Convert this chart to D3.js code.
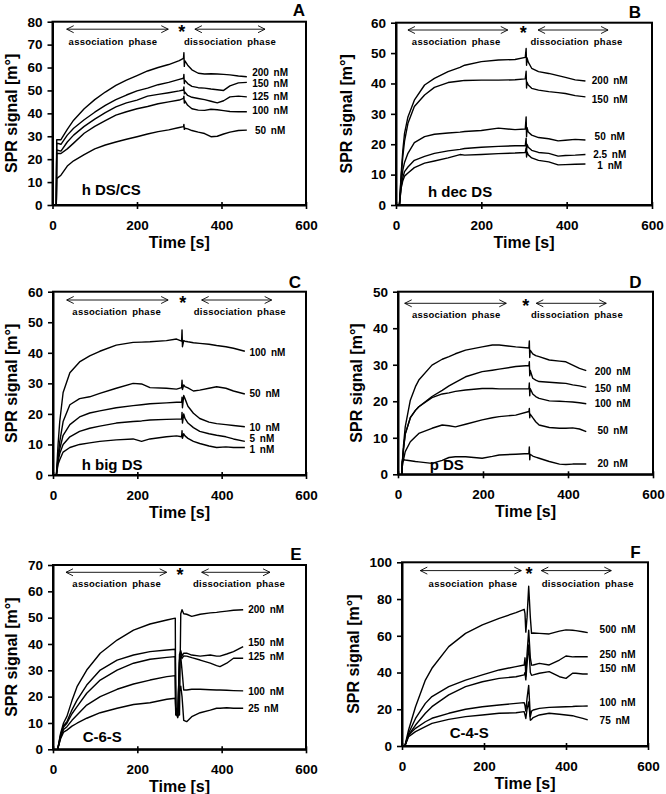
<!DOCTYPE html>
<html><head><meta charset="utf-8">
<script src="https://cdn.jsdelivr.net/npm/d3@7"></script>
<style>
body{margin:0;background:#fff}
text{font-family:"Liberation Sans",Arial,sans-serif}
</style>
</head><body>
<svg id="c" width="666" height="794"></svg>
<script>
// ---------- DATA ----------
const xTicks = [0, 200, 400, 600];

// Panel A : h DS/CS
const tA = [9,10,20,35,50,75,100,125,150,175,200,225,250,275,300,310,311,312,313,320,330,345,360,375,390,405,420,440,460];
const a200 = [0,28.5,28.5,33,37,42,46,49.3,52.2,54.5,56.5,58.5,60,61.3,63,64,66.5,60.5,63,61,59,57.5,57.2,57.3,57.2,57,56.8,56.3,56];
const a150 = [0,27,26.5,30.5,33.5,37.2,40.5,43.5,46,48,49.8,51,52.5,53.5,54.8,55.3,57,53,54.5,53,51.8,51.2,51,50.6,50.3,50,52,53.3,53.5];
const a125 = [0,24,23.5,27.5,30.5,34.3,37.5,40.3,42.8,44.6,45.8,47.5,48.3,49,49.8,50.2,51.5,48.5,49.3,47.8,47,46.5,46,45.3,44.6,45.5,47.2,47.5,47.2];
const a100 = [0,22.5,22.5,24.5,27,31.3,34.3,36.8,39.2,40.7,42,43,44.2,45,45.8,46.5,47.5,44.5,45.5,43.5,42,41.4,41.3,41.8,41.6,41.2,40.8,40.7,40.7];
const a50  = [0,11.5,13,17,19.3,22,24.5,26.2,27.5,28.7,29.8,31,32,32.8,33.8,34.2,35.2,33,33.5,33.2,32.5,31.8,31.2,29.8,30,31,31.8,32.5,32.7];
const labA = ["200 nM","150 nM","125 nM","100 nM","50 nM"];
const lvA  = [57.7,53.1,47.3,41.2,32.4];

// Panel B : h dec DS
const tB = [8,12,16,20,28,43,67,90,122,150,161,200,240,279,303,305,306,307,310,318,334,358,380,397,420,444];
const b200 = [0,10,18,23.6,29,34.5,39.5,41.7,43.9,45.3,46,47.2,47.7,47.9,48.6,51.5,46,48.5,47,45,43.9,43.3,42.6,42,41.2,40.8];
const b150 = [0,9,16,21,26.9,32.4,36.2,38.7,40.3,40.8,41,41.1,41.1,41.2,41.5,44,38.5,40.5,39.5,38.4,37.8,37.3,37,36.7,36,35.6];
const b50  = [0,7,11.5,14,17,20.5,22.5,23.3,23.7,24,24.2,24.5,25.3,24.8,25,29,22.5,25.5,24,23,22.2,21.8,21.1,21.3,21.6,21.4];
const b2_5 = [0,6,9,11,12.5,14.7,16,17,17.8,18.3,18.6,19,19.3,19.5,19.5,22,17.5,20,19,18,17.3,17,16.1,16.3,16.4,16.6];
const b1   = [0,5.5,8,9.5,10.5,12.3,13.8,14.5,15.5,16.6,16.4,16.6,16.9,17.1,17.3,18.7,15.8,17.5,16.5,15.5,14.7,14.2,13.2,13.3,13.4,13.5];
const labB = ["200 nM","150 nM","50 nM","2.5 nM","1 nM"];
const lvB  = [41.1,34.8,22.5,16.5,12.9];

// Panel C : h big DS
const tC = [8,12,16,24,40,63,87,111,150,190,210,230,269,293,305,306,307,310,313,320,333,348,370,388,410,428,455];
const c100 = [0,10,17.5,27,33.5,37,39,40.5,42.5,43.4,43.5,43.6,44,44.5,43.8,47.5,42,44,43.8,43.6,43.3,43.1,42.8,42.4,42,41.5,40.5];
const c50  = [0,6,10.9,17.5,23,25,25.6,26.7,28.4,30,29.8,28.6,28.4,28.1,28.6,31,28,29.5,28.9,28.5,27.5,27.8,28.4,28.9,28.4,27.5,26.5];
const c10  = [0,5.5,8.5,13,16.5,19,20.3,21,22,22.7,23,23.3,23.6,23.8,23.8,25.5,22,26,25,22.5,20.2,18.5,17.3,16.8,16.5,16.2,15.8];
const c5   = [0,4.5,7,10,12.5,14.3,15.3,16,17,17.5,17.7,18,18.2,18.3,18.3,20.5,17,20,18.5,17,15.5,14.3,13.5,13,12.5,11.8,11];
const c1   = [0,3.5,5,7.5,9,10,10.5,11,11.5,11.8,11,11.8,12.5,12.8,12.5,14.5,12,13.5,12.8,12,11,10.3,9.5,9,9.2,9,9];
const labC = ["100 nM","50 nM","10 nM","5 nM","1 nM"];
const lvC  = [40.2,26.7,15.5,12,8.4];

// Panel D : p DS
const tD = [9,10,13,17,29,41,49,80,104,120,135,159,198,222,238,277,308,309,310,311,317,324,332,356,380,395,411,427,443];
const d200 = [0,3,8,13,20.3,24,25.8,29.9,31.5,32.2,33,34,34.9,35.4,35.4,34.9,34.6,36.5,32,34,33,32.5,32.2,31.3,31,30.8,29.9,29,28.4];
const d150 = [0,3,7,11,15.5,17.5,18.5,21.3,23,24.2,25.2,26.7,28.1,28.5,28.8,29.5,29.8,30.8,27,28.5,26.3,25.8,25.4,25.2,25,24.9,24.5,24.2,23.8];
const d100 = [0,3,7,11,15.5,17.5,18.5,21,22,22.3,22.7,23.1,23.5,23.5,23.4,23.4,23.4,25,21.5,23.5,22,21.3,20.8,20.1,20,19.9,19.8,19.6,19.3];
const d50  = [0,2,4,6.2,8.9,10.3,11.2,12.6,13.5,13.3,13,13.7,14.9,15.5,15.8,16.2,17.2,18,15.5,16.5,15.5,14.4,13.5,12.8,12.6,12.6,12.7,12.4,11.7];
const d20  = [0,3.5,4,3.9,3.7,3.5,3.4,3,3.8,4.6,4.8,4.8,4.4,4.9,5.3,5.5,5.7,7.5,4,5.5,5,4.7,4.4,3.5,2.8,2.7,2.8,2.8,2.8];
const labD = ["200 nM","150 nM","100 nM","50 nM","20 nM"];
const lvD  = [28.3,23.5,19.4,12.1,3];

// Panel E : C-6-S
const tE = [11,18,25,33,45,57,80,112,152,191,230,270,290,291,296,300,303,306,310,317,329,349,373,388,396,412,428,451];
const e200 = [0,6,10,12.5,18.5,23.8,30.1,36.5,41.5,45.3,47.6,49.1,49.8,13,13,13,51.5,53,51.5,51.3,50.5,51.3,51.8,52,52.2,52.5,52.8,53];
const e150 = [0,5.5,9,10.5,15,18.7,24.4,30.1,33.9,35.8,37.1,37.7,38,14,12.5,36,37.5,35.5,36.5,36.5,35.8,35.4,35.8,35.4,35.4,36.2,37.1,39];
const e125 = [0,5,8.5,9.9,13.5,16.2,21.3,26.3,30.1,32.7,34.2,34.9,35.2,15,13,33,36,34.5,35.5,35.4,34.8,33.9,32.7,31.8,31.4,32.7,34.6,34.6];
const e100 = [0,4.5,7.5,8.6,11,13,16.8,20,22.8,24.8,26.3,27.6,28,16,14,34,35,30,22.5,22.5,22.8,22.8,22.6,22.5,22.5,22.4,22.3,22.2];
const e25  = [0,4,6.5,7.3,8.8,9.9,11.8,13.9,15.6,17,17.7,19,19.4,14,12,22,24,20,11,10.5,12.4,13.9,14.9,15.6,15.6,15.8,15.6,15.6];
const labE = ["200 nM","150 nM","125 nM","100 nM","25 nM"];
const lvE  = [53.3,40.5,35.4,22.1,15.6];

// Panel F : C-4-S
const tF = [7,16,33,57,73,114,155,196,237,278,298,300,302,305,309,313,316,320,335,359,384,400,416,424,441,453];
const f500 = [0,8.7,21.4,35.9,42.3,54.1,61.3,65.9,69.5,72.6,74.4,72,62,70,87,70,61.3,61.5,61.3,61,62.5,63.2,63,62.8,62.2,61.7];
const f250 = [0,6.9,15,23.2,26.9,32.3,35.9,38.7,41.4,43.2,44.1,48,38,50,63,48,44,44.1,45,44.1,46.8,49,48.5,48.6,48.6,48.6];
const f150 = [0,6,11.4,17.8,21.4,27.8,32.3,35,36.8,37.7,38.7,40,36,45,55,40,38.5,38.7,39.6,40.5,37.7,36.8,39.6,39.6,39.2,39.2];
const f100 = [0,6,9.6,13.2,15.1,17.8,20,21.4,22.3,23.2,23.6,22,19,26,33,16,19,19.6,20.5,21,21.2,21.4,21.5,21.6,21.7,21.8];
const f75  = [0,5.1,7.8,10.5,12.3,14.5,16,16.9,17.8,18.1,18.7,17,15,20,24,14,14.5,15.5,16.9,17.8,17.3,16.9,16.5,16,15,14.2];
const labF = ["500 nM","250 nM","150 nM","100 nM","75 nM"];
const lvF  = [63.5,49.9,42.3,23.6,13.8];

// ---------- LAYOUT ----------
const panels = [
  {letter:"A", name:"h DS/CS", times:tA, series:[a200,a150,a125,a100,a50], labels:labA, lv:lvA,
   x0:52.5, x1:306, y0:205, y1:21.7, yMax:80, step:10, labelT:515, anchor:"middle",
   nameX:81.7, nameY:190, titleX:11, letterX:299, letterY:10,
   arr:{a:[33.6,274], star:306, d:[337,503], ta:143, td:420, dy:7.5, ty:20}},
  {letter:"B", name:"h dec DS", times:tB, series:[b200,b150,b50,b2_5,b1], labels:labB, lv:lvB,
   x0:396, x1:652, y0:205, y1:22.7, yMax:60, step:10, labelT:501, anchor:"middle",
   nameX:428, nameY:191.7, titleX:346, letterX:635, letterY:11.7,
   arr:{a:[28,262], star:298, d:[333,497], ta:141, td:423, dy:7.3, ty:19}},
  {letter:"C", name:"h big DS", times:tC, series:[c100,c50,c10,c5,c1], labels:labC, lv:lvC,
   x0:53, x1:306, y0:475, y1:291.7, yMax:60, step:10, labelT:466, anchor:"start",
   nameX:81.7, nameY:465, titleX:11, letterX:295, letterY:281.7,
   arr:{a:[32.5,273], star:307.6, d:[352.6,518.6], ta:151, td:443, dy:8.3, ty:20}},
  {letter:"D", name:"p DS", times:tD, series:[d200,d150,d100,d50,d20], labels:labD, lv:lvD,
   x0:398, x1:653, y0:474.3, y1:291.7, yMax:50, step:10, labelT:505, anchor:"middle",
   nameX:429.7, nameY:465, titleX:356, letterX:635.5, letterY:281.7,
   arr:{a:[15.8,254.8], star:300.5, d:[325.4,490], ta:137, td:421, dy:11.6, ty:23}},
  {letter:"E", name:"C-6-S", times:tE, series:[e200,e150,e125,e100,e25], labels:labE, lv:lvE,
   x0:53, x1:306, y0:749.3, y1:565, yMax:70, step:10, labelT:463, anchor:"start",
   nameX:82.7, nameY:736.7, titleX:11, letterX:295.8, letterY:554,
   arr:{a:[30.8,269.6], star:301, d:[352.6,514.6], ta:151, td:441, dy:7.3, ty:19}},
  {letter:"F", name:"C-4-S", times:tF, series:[f500,f250,f150,f100,f75], labels:labF, lv:lvF,
   x0:402, x1:648, y0:746, y1:562.3, yMax:100, step:20, labelT:482, anchor:"start",
   nameX:449.7, nameY:732.7, titleX:353, letterX:635.5, letterY:551.7,
   arr:{a:[44.6,291], star:309.8, d:[339.8,510.5], ta:173, td:453, dy:8.3, ty:21.7}}
];

const svg = d3.select("#c");
const defs = svg.append("defs");

function arrow(g, xa, xb, ya){
  g.append("line").attr("x1",xa).attr("x2",xb).attr("y1",ya).attr("y2",ya)
    .attr("stroke","#000").attr("stroke-width",0.9);
  g.append("path").attr("d",`M${xa+7},${ya-3.5}L${xa},${ya}L${xa+7},${ya+3.5}`)
    .attr("fill","none").attr("stroke","#000").attr("stroke-width",0.9);
  g.append("path").attr("d",`M${xb-7},${ya-3.5}L${xb},${ya}L${xb-7},${ya+3.5}`)
    .attr("fill","none").attr("stroke","#000").attr("stroke-width",0.9);
}

panels.forEach(p => {
  const x = d3.scaleLinear().domain([0,600]).range([p.x0,p.x1]);
  const y = d3.scaleLinear().domain([0,p.yMax]).range([p.y0,p.y1]);
  const g = svg.append("g");
  const cid = "clip" + p.letter;
  defs.append("clipPath").attr("id",cid).append("rect")
    .attr("x",p.x0).attr("y",p.y1).attr("width",p.x1-p.x0).attr("height",p.y0-p.y1);

  // curves
  const line = d3.line().x((d,i)=>x(p.times[i])).y(d=>y(d));
  p.series.forEach(s => {
    g.append("path").attr("d",line(s)).attr("clip-path",`url(#${cid})`)
      .attr("fill","none").attr("stroke","#000").attr("stroke-width",1.4)
      .attr("stroke-linejoin","round");
  });

  // box
  g.append("rect").attr("x",p.x0).attr("y",p.y1).attr("width",p.x1-p.x0).attr("height",p.y0-p.y1)
    .attr("fill","none").attr("stroke","#000").attr("stroke-width",2);

  // axes
  const xa = g.append("g").attr("transform",`translate(0,${p.y0})`)
    .call(d3.axisBottom(x).tickValues(xTicks).tickSize(5).tickSizeOuter(0).tickPadding(10));
  xa.selectAll(".tick line").attr("y1",-3).attr("y2",4).attr("stroke-width",1.6);
  const ya = g.append("g").attr("transform",`translate(${p.x0},0)`)
    .call(d3.axisLeft(y).tickValues(d3.range(0,p.yMax+0.1,p.step)).tickSize(5).tickSizeOuter(0).tickPadding(5));
  ya.selectAll(".tick line").attr("stroke-width",1.6);
  [xa,ya].forEach(a=>{
    a.select(".domain").attr("stroke-width",2);
    a.selectAll("text").attr("font-family",'"Liberation Sans",Arial,sans-serif')
      .attr("font-size",13.5).attr("font-weight","bold").attr("fill","#000");
  });

  // axis titles
  g.append("text").attr("x",(p.x0+p.x1)/2).attr("y",p.y0+43).attr("text-anchor","middle")
    .attr("font-size",16).attr("font-weight","bold").text("Time [s]");
  g.append("text").attr("transform",`translate(${p.titleX},${(p.y0+p.y1)/2}) rotate(-90)`)
    .attr("dy","0.35em").attr("text-anchor","middle")
    .attr("font-size",16).attr("font-weight","bold").text("SPR signal [m°]");

  // panel letter
  g.append("text").attr("x",p.letterX).attr("y",p.letterY).attr("dy","0.36em")
    .attr("text-anchor","middle").attr("font-size",17).attr("font-weight","bold").text(p.letter);

  // sample name
  g.append("text").attr("x",p.nameX).attr("y",p.nameY).attr("dy","0.36em")
    .attr("font-size",15).attr("font-weight","bold").text(p.name);

  // concentration labels
  p.labels.forEach((lab,i)=>{
    g.append("text").attr("x",x(p.labelT)).attr("y",y(p.lv[i])).attr("dy","0.36em")
      .attr("text-anchor",p.anchor).attr("font-size",10).attr("font-weight","bold")
      .attr("word-spacing",2).text(lab);
  });

  // phase arrows and text
  const ay = p.y1 + p.arr.dy;
  arrow(g, x(p.arr.a[0]), x(p.arr.a[1]), ay);
  arrow(g, x(p.arr.d[0]), x(p.arr.d[1]), ay);
  g.append("text").attr("x",x(p.arr.star)).attr("y",ay+9).attr("text-anchor","middle")
    .attr("font-size",18).attr("font-weight","bold").text("*");
  g.append("text").attr("x",x(p.arr.ta)).attr("y",p.y1+p.arr.ty).attr("dy","0.36em")
    .attr("text-anchor","middle").attr("font-size",9.5).attr("font-weight","bold")
    .attr("letter-spacing",0.25).attr("word-spacing",2).text("association phase");
  g.append("text").attr("x",x(p.arr.td)).attr("y",p.y1+p.arr.ty).attr("dy","0.36em")
    .attr("text-anchor","middle").attr("font-size",9.5).attr("font-weight","bold")
    .attr("letter-spacing",0.25).attr("word-spacing",2).text("dissociation phase");
});
</script>
</body></html>
